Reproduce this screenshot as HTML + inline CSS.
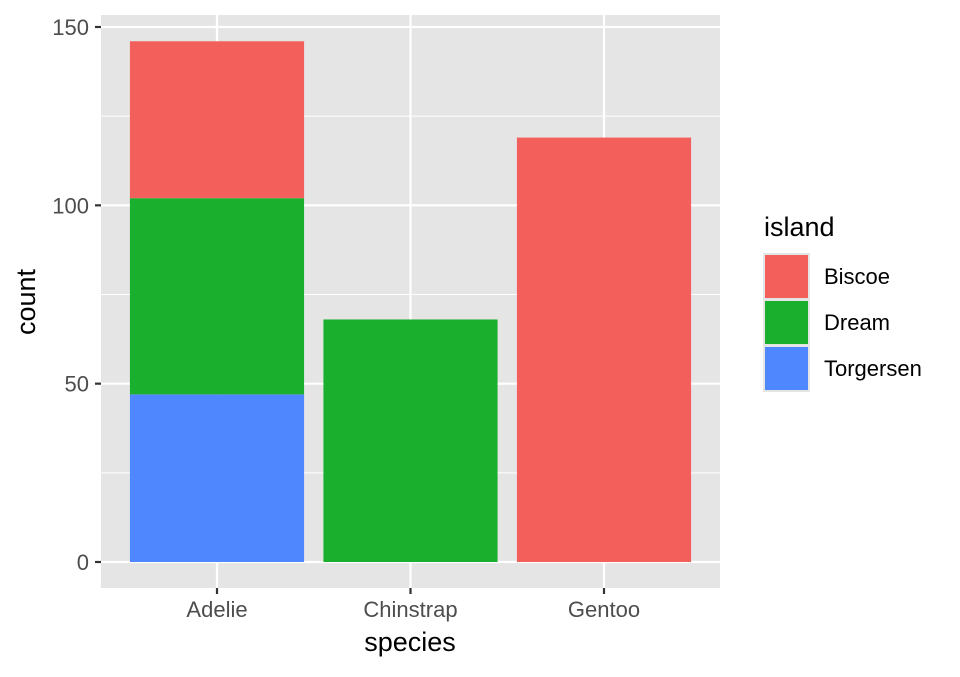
<!DOCTYPE html>
<html><head><meta charset="utf-8"><style>
body{margin:0;background:#fff;}
svg text{font-family:"Liberation Sans",Arial,sans-serif;}
</style></head><body>
<svg width="960" height="672" xmlns="http://www.w3.org/2000/svg" id="chart">
<rect x="101" y="15" width="619" height="573" fill="#E5E5E5"/>
<g id="grid"></g><g id="bars"></g><g id="axes"></g>
<text x="410" y="651" font-size="27" text-anchor="middle" fill="#000">species</text>
<text transform="translate(35,302) rotate(-90)" font-size="27" text-anchor="middle" fill="#000">count</text>
<g>
<text x="764" y="236" font-size="27" fill="#000">island</text>
<g id="legend"></g>
</g>
</svg>
<script>
const categories=["Adelie","Chinstrap","Gentoo"];
const islands=["Biscoe","Dream","Torgersen"];
const colors=["#F35F5B","#1AB02E","#4F87FF"];
const biscoe=[44,0,119];
const dream=[55,68,0];
const torgersen=[47,0,0];
const yTicks=[0,50,100,150];
const ns="http://www.w3.org/2000/svg";
const y0=562, ppu=(562-27)/150;
const y=v=>y0-v*ppu;
const band=193.5, x=i=>217+i*band, bw=band*0.9;
function mk(t,a,p){const e=document.createElementNS(ns,t);for(const k in a)e.setAttribute(k,a[k]);p.appendChild(e);return e;}
const grid=document.getElementById('grid'),bars=document.getElementById('bars'),axes=document.getElementById('axes');
for(let i=0;i<yTicks.length-1;i++){const m=(yTicks[i]+yTicks[i+1])/2;
const l=mk('line',{x1:101,x2:720,y1:y(m),y2:y(m),stroke:'#fff','stroke-width':1},grid);

}
yTicks.forEach(t=>{const l=mk('line',{x1:101,x2:720,y1:y(t),y2:y(t),stroke:'#fff','stroke-width':2.2},grid);


const tk=mk('line',{x1:95,x2:101,y1:y(t),y2:y(t),stroke:'#333','stroke-width':2.2},axes);


const tx=mk('text',{x:89,y:y(t)+8,'font-size':22,'text-anchor':'end',fill:'#4D4D4D'},axes);tx.textContent=t;

});
categories.forEach((c,i)=>{const l=mk('line',{x1:x(i),x2:x(i),y1:15,y2:588,stroke:'#fff','stroke-width':2.2},grid);


const tk=mk('line',{x1:x(i),x2:x(i),y1:588,y2:594,stroke:'#333','stroke-width':2.2},axes);


const tx=mk('text',{x:x(i),y:617,'font-size':22,'text-anchor':'middle',fill:'#4D4D4D'},axes);tx.textContent=c;


const vals=[torgersen[i],dream[i],biscoe[i]],cols=[colors[2],colors[1],colors[0]],names=['torgersen','dream','biscoe'];
let base=0;vals.forEach((v,k)=>{if(v>0){const r=mk('rect',{x:x(i)-bw/2,y:y(base+v),width:bw,height:v*ppu,fill:cols[k]},bars);

}base+=v;});});
const lg=document.getElementById('legend');
islands.forEach((s,i)=>{const yy=253+i*46;
const bg=mk('rect',{x:763,y:yy,width:47,height:47,fill:'#E5E5E5'},lg);


const r=mk('rect',{x:765,y:yy+2,width:43,height:43,fill:colors[i]},lg);


const t=mk('text',{x:824,y:yy+31,'font-size':22,fill:'#000'},lg);t.textContent=s;

});
</script>
</body></html>
